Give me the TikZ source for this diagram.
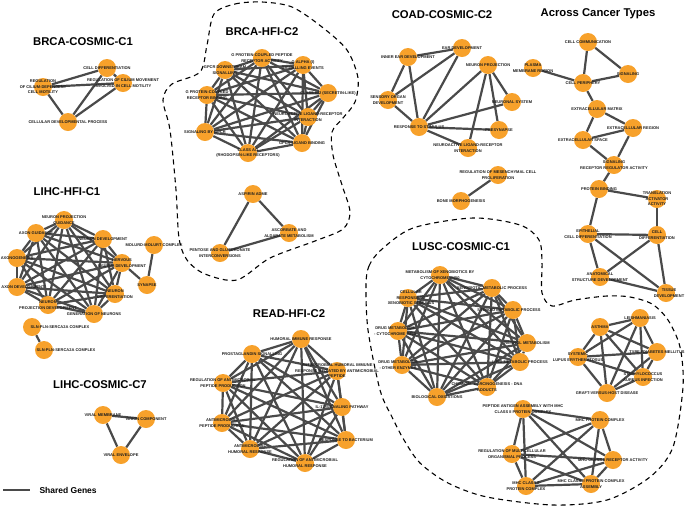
\documentclass[tikz,border=0pt]{standalone}
\usepackage{fontspec}
\setmainfont{Liberation Sans}
\usetikzlibrary{backgrounds}
\definecolor{gonode}{HTML}{F7A12B}
\definecolor{golink}{HTML}{4A4A4A}
\definecolor{goink}{HTML}{1E1E1E}
\tikzset{
  go/.style={circle, fill=gonode, draw=none, minimum size=18pt, inner sep=0pt},
  lab/.style={text=goink, font=\fontsize{4}{5.5}\selectfont\bfseries, align=center, inner sep=0pt},
  link/.style={draw=golink, line width=2.2pt},
  hull/.style={draw=black, line width=1.1pt, dash pattern=on 5pt off 4pt},
  ttl/.style={text=black, font=\fontsize{11.3}{13}\selectfont\bfseries},
}
\begin{document}
\begin{tikzpicture}[x=1pt, y=-1pt]
  \useasboundingbox (0,0) rectangle (685,507);

  % titles
  \node[ttl] (tbc) at (83,42) {BRCA-COSMIC-C1};
  \node[ttl] (tbh) at (262,32) {BRCA-HFI-C2};
  \node[ttl] (tcc) at (442,15) {COAD-COSMIC-C2};
  \node[ttl] (tac) at (598,14) {Across Cancer Types};
  \node[ttl] (tlh) at (67,192) {LIHC-HFI-C1};
  \node[ttl] (tlc) at (100,385) {LIHC-COSMIC-C7};
  \node[ttl] (trh) at (289,314) {READ-HFI-C2};
  \node[ttl] (tlu) at (461,247) {LUSC-COSMIC-C1};

  % BRCA-COSMIC-C1
  \node[go, label={[lab]center:{CELL DIFFERENTIATION}}] (b1) at (107,68) {};
  \node[go, label={[lab]center:{REGULATION\\OF CILIUM-DEPENDENT\\CELL MOTILITY}}] (b2) at (43,87) {};
  \node[go, label={[lab]center:{REGULATION OF CILIUM MOVEMENT\\INVOLVED IN CELL MOTILITY}}] (b3) at (123,83) {};
  \node[go, label={[lab]center:{CELLULAR DEVELOPMENTAL PROCESS}}] (b4) at (68,122) {};

  % BRCA-HFI-C2
  \node[go, label={[lab]center:{G PROTEIN-COUPLED PEPTIDE\\RECEPTOR ACTIVITY}}] (g1) at (262,58) {};
  \node[go, label={[lab]center:{GPCR DOWNSTREAM\\SIGNALLING}}] (g2) at (225,70) {};
  \node[go, label={[lab]center:{G ALPHA (I)\\SIGNALLING EVENTS}}] (g3) at (303,65) {};
  \node[go, label={[lab]center:{G PROTEIN-COUPLED\\RECEPTOR BINDING}}] (g4) at (207,95) {};
  \node[go, label={[lab]center:{CLASS B/2 (SECRETIN-LIKE)}}] (g5) at (328,93) {};
  \node[go, label={[lab]center:{NEUROACTIVE LIGAND-RECEPTOR\\INTERACTION}}] (g6) at (308,117) {};
  \node[go, label={[lab]center:{SIGNALING BY GPCR}}] (g7) at (205,132) {};
  \node[go, label={[lab]center:{CLASS A/1\\(RHODOPSIN-LIKE RECEPTORS)}}] (g8) at (248,153) {};
  \node[go, label={[lab]center:{GPCR LIGAND BINDING}}] (g9) at (302,143) {};
  \node[go, label={[lab]center:{ASPIRIN ADME}}] (a1) at (253,194) {};
  \node[go, label={[lab]center:{ASCORBATE AND\\ALDARATE METABOLISM}}] (a2) at (289,233) {};
  \node[go, label={[lab]center:{PENTOSE AND GLUCURONATE\\INTERCONVERSIONS}}] (a3) at (220,253) {};

  % COAD-COSMIC-C2
  \node[go, label={[lab]center:{EAR DEVELOPMENT}}] (c1) at (462,48) {};
  \node[go, label={[lab]center:{INNER EAR DEVELOPMENT}}] (c2) at (408,57) {};
  \node[go, label={[lab]center:{NEURON PROJECTION}}] (c3) at (488,65) {};
  \node[go, label={[lab]center:{SENSORY ORGAN\\DEVELOPMENT}}] (c4) at (388,100) {};
  \node[go, label={[lab]center:{NEURONAL SYSTEM}}] (c5) at (512,102) {};
  \node[go, label={[lab]center:{RESPONSE TO STIMULUS}}] (c6) at (419,127) {};
  \node[go, label={[lab]center:{PRESYNAPSE}}] (c7) at (499,130) {};
  \node[go, label={[lab]center:{NEUROACTIVE LIGAND-RECEPTOR\\INTERACTION}}] (c8) at (468,148) {};
  \node[go, label={[lab]center:{REGULATION OF MESENCHYMAL CELL\\PROLIFERATION}}] (c9) at (498,175) {};
  \node[go, label={[lab]center:{BONE MORPHOGENESIS}}] (c10) at (461,201) {};

  % Across Cancer Types
  \node[go, label={[lab]center:{CELL COMMUNICATION}}] (x1) at (588,42) {};
  \node[go, label={[lab]center:{PLASMA\\MEMBRANE REGION}}] (x2) at (533,68) {};
  \node[go, label={[lab]center:{SIGNALING}}] (x3) at (628,74) {};
  \node[go, label={[lab]center:{CELL PERIPHERY}}] (x4) at (583,83) {};
  \node[go, label={[lab]center:{EXTRACELLULAR MATRIX}}] (x5) at (597,109) {};
  \node[go, label={[lab]center:{EXTRACELLULAR REGION}}] (x6) at (633,128) {};
  \node[go, label={[lab]center:{EXTRACELLULAR SPACE}}] (x7) at (583,140) {};
  \node[go, label={[lab]center:{SIGNALING\\RECEPTOR REGULATOR ACTIVITY}}] (x8) at (614,165) {};
  \node[go, label={[lab]center:{PROTEIN BINDING}}] (x9) at (599,189) {};
  \node[go, label={[lab]center:{TRANSLATION\\ACTIVATOR\\ACTIVITY}}] (x10) at (657,199) {};
  \node[go, label={[lab]center:{EPITHELIAL\\CELL DIFFERENTIATION}}] (x11) at (588,234) {};
  \node[go, label={[lab]center:{CELL\\DIFFERENTIATION}}] (x12) at (657,235) {};
  \node[go, label={[lab]center:{ANATOMICAL\\STRUCTURE DEVELOPMENT}}] (x13) at (600,277) {};
  \node[go, label={[lab,xshift=3pt]center:{TISSUE\\DEVELOPMENT}}] (x14) at (666,293) {};

  % LIHC-HFI-C1
  \node[go, label={[lab]center:{NEURON PROJECTION\\GUIDANCE}}] (l1) at (64,220) {};
  \node[go, label={[lab]center:{AXON GUIDANCE}}] (l2) at (36,233) {};
  \node[go, label={[lab]center:{NEURON DEVELOPMENT}}] (l3) at (103,239) {};
  \node[go, label={[lab]center:{AXONOGENESIS}}] (l4) at (17,258) {};
  \node[go, label={[lab]center:{NERVOUS\\SYSTEM DEVELOPMENT}}] (l5) at (122,263) {};
  \node[go, label={[lab,xshift=6pt]center:{AXON DEVELOPMENT}}] (l6) at (17,287) {};
  \node[go, label={[lab]center:{NEURON\\DIFFERENTIATION}}] (l7) at (115,294) {};
  \node[go, label={[lab]center:{NEURON\\PROJECTION DEVELOPMENT}}] (l8) at (48,305) {};
  \node[go, label={[lab]center:{GENERATION OF NEURONS}}] (l9) at (94,314) {};
  \node[go, label={[lab]center:{MOLURD-MOLURT COMPLEX}}] (l10) at (154,245) {};
  \node[go, label={[lab]center:{SYNAPSE}}] (l11) at (147,285) {};
  \node[go, label={[lab,xshift=28pt]center:{SLN-PLN-SERCA2A COMPLEX}}] (s1) at (32,327) {};
  \node[go, label={[lab,xshift=22pt]center:{SLN-PLN-SERCA2A COMPLEX}}] (s2) at (44,350) {};

  % LIHC-COSMIC-C7
  \node[go, label={[lab]center:{VIRAL MEMBRANE}}] (v1) at (103,415) {};
  \node[go, label={[lab]center:{VIRION COMPONENT}}] (v2) at (146,419) {};
  \node[go, label={[lab]center:{VIRAL ENVELOPE}}] (v3) at (121,455) {};

  % READ-HFI-C2
  \node[go, label={[lab]center:{HUMORAL IMMUNE RESPONSE}}] (r1) at (301,339) {};
  \node[go, label={[lab]center:{PROSTAGLANDIN SIGNALLING}}] (r2) at (252,354) {};
  \node[go, label={[lab]center:{ANTIMICROBIAL HUMORAL IMMUNE\\RESPONSE MEDIATED BY ANTIMICROBIAL\\PEPTIDE}}] (r3) at (337,371) {};
  \node[go, label={[lab]center:{REGULATION OF ANTIMICROBIAL\\PEPTIDE PRODUCTION}}] (r4) at (223,383) {};
  \node[go, label={[lab]center:{IL-17 SIGNALING PATHWAY}}] (r5) at (342,407) {};
  \node[go, label={[lab]center:{ANTIMICROBIAL\\PEPTIDE PRODUCTION}}] (r6) at (222,423) {};
  \node[go, label={[lab]center:{RESPONSE TO BACTERIUM}}] (r7) at (346,440) {};
  \node[go, label={[lab]center:{ANTIMICROBIAL\\HUMORAL RESPONSE}}] (r8) at (250,449) {};
  \node[go, label={[lab]center:{REGULATION OF ANTIMICROBIAL\\HUMORAL RESPONSE}}] (r9) at (305,463) {};

  % LUSC-COSMIC-C1
  \node[go, label={[lab]center:{METABOLISM OF XENOBIOTICS BY\\CYTOCHROME P450}}] (p1) at (440,275) {};
  \node[go, label={[lab,xshift=3pt]center:{CELLULAR\\RESPONSE TO\\XENOBIOTIC STIMULUS}}] (p2) at (408,298) {};
  \node[go, label={[lab]center:{XENOBIOTIC METABOLIC PROCESS}}] (p3) at (492,288) {};
  \node[go, label={[lab,xshift=-4pt]center:{STEROID METABOLIC PROCESS}}] (p4) at (513,310) {};
  \node[go, label={[lab]center:{RETINOL METABOLISM}}] (p5) at (527,343) {};
  \node[go, label={[lab]center:{LIPID METABOLIC PROCESS}}] (p6) at (520,362) {};
  \node[go, label={[lab,xshift=-3pt]center:{DRUG METABOLISM\\- CYTOCHROME P450}}] (p7) at (398,331) {};
  \node[go, label={[lab,xshift=-4pt]center:{DRUG METABOLISM\\- OTHER ENZYMES}}] (p8) at (402,365) {};
  \node[go, label={[lab]center:{CHEMICAL CARCINOGENESIS - DNA\\ADDUCTS}}] (p9) at (487,387) {};
  \node[go, label={[lab]center:{BIOLOGICAL OXIDATIONS}}] (p10) at (437,397) {};

  \node[go, label={[lab]center:{ASTHMA}}] (d1) at (600,327) {};
  \node[go, label={[lab]center:{LEISHMANIASIS}}] (d2) at (640,318) {};
  \node[go, label={[lab]center:{SYSTEMIC\\LUPUS ERYTHEMATOSUS}}] (d3) at (578,357) {};
  \node[go, label={[lab]center:{TYPE I DIABETES MELLITUS}}] (d4) at (657,352) {};
  \node[go, label={[lab]center:{STAPHYLOCOCCUS\\AUREUS INFECTION}}] (d5) at (643,377) {};
  \node[go, label={[lab]center:{GRAFT-VERSUS-HOST DISEASE}}] (d6) at (607,393) {};

  \node[go, label={[lab]center:{PEPTIDE ANTIGEN ASSEMBLY WITH MHC\\CLASS II PROTEIN COMPLEX}}] (m1) at (523,409) {};
  \node[go, label={[lab]center:{MHC PROTEIN COMPLEX}}] (m2) at (600,420) {};
  \node[go, label={[lab]center:{REGULATION OF MULTICELLULAR\\ORGANISMAL PROCESS}}] (m3) at (512,454) {};
  \node[go, label={[lab]center:{MHC CLASS II RECEPTOR ACTIVITY}}] (m4) at (613,460) {};
  \node[go, label={[lab]center:{MHC CLASS II\\PROTEIN COMPLEX}}] (m5) at (526,486) {};
  \node[go, label={[lab]center:{MHC CLASS II PROTEIN COMPLEX\\ASSEMBLY}}] (m6) at (591,484) {};

  % legend
  \coordinate (lg1) at (3,490);
  \coordinate (lg2) at (30,490);
  \draw[link] (lg1) -- (lg2);
  \node[anchor=west, font=\fontsize{8.5}{10}\selectfont\bfseries] (lgt) at (36,490) {Shared Genes};

  \begin{pgfonlayer}{background}
    \foreach \i in {1,...,4}{\foreach \j in {1,...,4}{\ifnum\j>\i \draw[link] (b\i)--(b\j);\fi}}
    \foreach \i in {1,...,9}{\foreach \j in {1,...,9}{\ifnum\j>\i \draw[link] (g\i)--(g\j);\fi}}
    \foreach \i in {1,...,9}{\foreach \j in {1,...,9}{\ifnum\j>\i \draw[link] (l\i)--(l\j);\fi}}
    \foreach \i in {1,...,9}{\foreach \j in {1,...,9}{\ifnum\j>\i \draw[link] (r\i)--(r\j);\fi}}
    \foreach \i in {1,...,10}{\foreach \j in {1,...,10}{\ifnum\j>\i \draw[link] (p\i)--(p\j);\fi}}
    \foreach \i in {1,...,6}{\foreach \j in {1,...,6}{\ifnum\j>\i \draw[link] (d\i)--(d\j);\fi}}
    \foreach \i in {1,...,6}{\foreach \j in {1,...,6}{\ifnum\j>\i \draw[link] (m\i)--(m\j);\fi}}
    \foreach \u/\v in {a1/a2, a2/a3, a3/a1, v1/v2, v2/v3, v3/v1, l5/l11, l10/l11, s1/s2,
      c1/c2, c1/c4, c1/c6, c2/c4, c2/c6, c4/c6, c3/c6, c3/c5, c3/c7, c3/c8, c5/c6, c6/c7, c6/c8, c9/c10,
      x1/x3, x1/x4, x4/x3, x2/x4, x4/x5, x5/x6, x5/x7, x7/x6, x7/x8, x6/x8, x8/x9, x9/x10, x9/x11,
      x10/x12, x11/x12, x11/x13, x11/x14, x12/x13, x12/x14, x13/x14}
      \draw[link] (\u)--(\v);
  \end{pgfonlayer}

  % dashed hulls
  \draw[hull] plot[smooth cycle] coordinates {(214,14) (235,4) (262,2) (292,7) (322,27) (347,50) (358,78) (355,102)
    (343,118) (332,132) (333,155) (342,185) (350,212) (343,229) (315,241) (270,258) (237,280) (205,274)
    (187,260) (179,238) (176,190) (170,130) (163,100) (172,84) (200,72) (207,45)};
  \draw[hull] plot[smooth cycle] coordinates {(366,285) (369,266) (381,250) (413,228) (473,218) (520,225) (539,240)
    (542,262) (542,293) (552,306) (575,300) (607,296) (630,297) (652,304) (668,320) (680,347) (683,387)
    (673,447) (650,477) (607,500) (553,505) (487,497) (448,483) (420,463) (404,440) (392,417) (380,390) (368,330)};
\end{tikzpicture}
\end{document}
